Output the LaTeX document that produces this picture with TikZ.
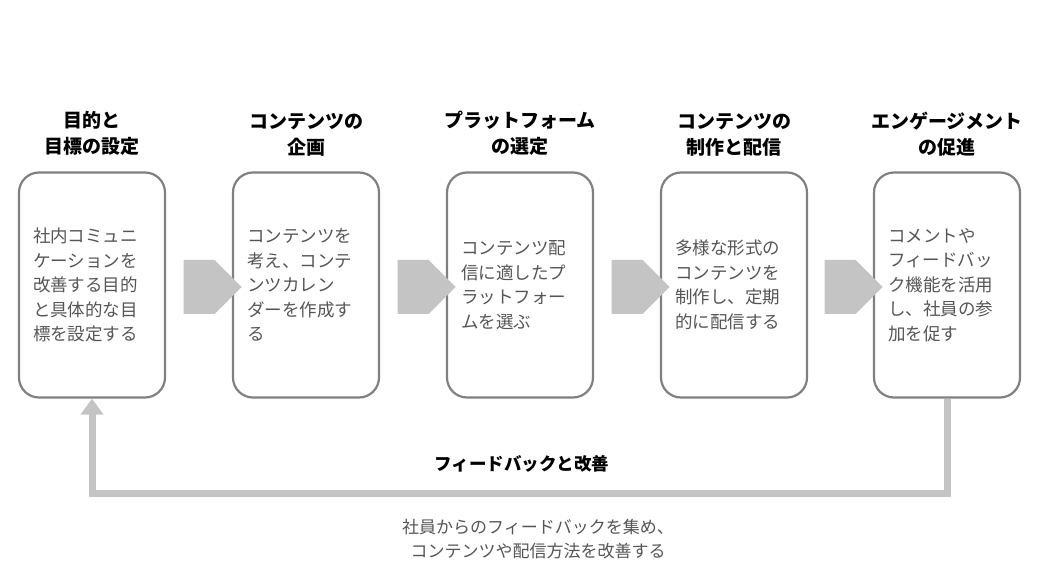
\documentclass[tikz,border=0pt]{standalone}
\usepackage{fontspec}
\setmainfont{Noto Sans CJK JP}
\usetikzlibrary{arrows.meta,positioning,shapes.arrows}
\definecolor{boxline}{HTML}{808080}
\definecolor{flowgray}{HTML}{C4C4C4}
\definecolor{bodytext}{HTML}{555555}

\begin{document}
\begin{tikzpicture}[
  x=1pt,y=-1pt,
  stage/.style={draw=boxline,line width=2.2pt,rounded corners=20pt,minimum width=146pt,minimum height=225pt,
    text width=118pt,align=left,text=bodytext,font=\fontsize{17.5}{24.5}\selectfont},
  title/.style={align=center,font=\bfseries\fontsize{19}{26}\selectfont},
  flow/.style={single arrow,fill=flowgray,draw=none,minimum height=58pt,minimum width=54pt,
    single arrow head extend=0pt,inner sep=0pt,single arrow tip angle=90},
  loop/.style={draw=flowgray,line width=7pt,-{Triangle[length=16pt,width=22pt]}}
]
\useasboundingbox (0,0) rectangle (1037,585);
\node[stage] (goal) at (92,285) {社内コミュニ\\ケーションを\\改善する目的\\と具体的な目\\標を設定する};
\node[stage] (plan) at (306,285) {コンテンツを\\考え、コンテ\\ンツカレン\\ダーを作成す\\る};
\node[stage] (pick) at (520,285) {コンテンツ配\\信に適したプ\\ラットフォー\\ムを選ぶ};
\node[stage] (make) at (734,285) {多様な形式の\\コンテンツを\\制作し、定期\\的に配信する};
\node[stage] (engage) at (947,285) {コメントや\\フィードバッ\\ク機能を活用\\し、社員の参\\加を促す};

\node[title,above=12pt of goal] {目的と\\目標の設定};
\node[title,above=12pt of plan] {コンテンツの\\企画};
\node[title,above=12pt of pick] {プラットフォーム\\の選定};
\node[title,above=12pt of make] {コンテンツの\\制作と配信};
\node[title,above=12pt of engage] {エンゲージメント\\の促進};

\node[flow] (a1) at (199,287) {};
\node[flow] (a2) at (413,287) {};
\node[flow] (a3) at (627,287) {};
\node[flow] (a4) at (840,287) {};

\coordinate (turnr) at (engage.south |- 0,493);
\coordinate (turnl) at (goal.south |- 0,493);
\draw[loop] (engage.south) -- (turnr) -- (turnl) -- (goal.south);

\node[title,font=\bfseries\fontsize{17.5}{24}\selectfont] (fbk) at (522,464) {フィードバックと改善};
\node[align=center,text=bodytext,font=\fontsize{17}{24}\selectfont] (note) at (538,539)
  {社員からのフィードバックを集め、\\コンテンツや配信方法を改善する};
\end{tikzpicture}
\end{document}
